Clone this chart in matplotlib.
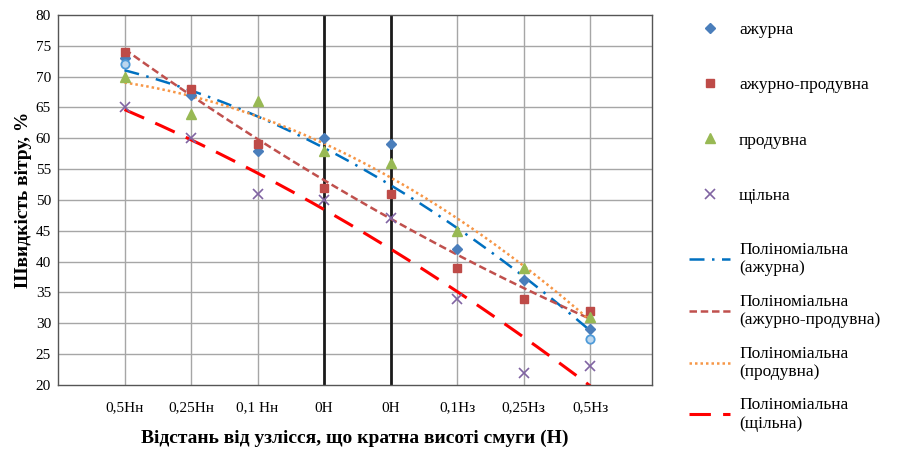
import matplotlib.pyplot as plt
import numpy as np

plt.rcParams['font.family'] = ['Liberation Serif', 'DejaVu Serif']

# категорії (відстань від узлісся)
categories = ['0,5Hн', '0,25Hн', '0,1 Hн', '0H', '0H', '0,1Hз', '0,25Hз', '0,5Hз']

azhurna = [73, 67, 58, 60, 59, 42, 37, 29]
azhurno_produvna = [74, 68, 59, 52, 51, 39, 34, 32]
produvna = [70, 64, 66, 58, 56, 45, 39, 31]
shchilna = [65, 60, 51, 50, 47, 34, 22, 23]

# окремі точки (кружечки) на краях
extra_x = [1, 8]
extra_y = [72, 27.5]

x = np.arange(1, len(categories) + 1)

fig = plt.figure(figsize=(9.03, 4.55), dpi=100)
ax = fig.add_axes([0.0642, 0.154, 0.658, 0.813])

# сітка
for xv in x:
    if xv in (4, 5):
        ax.axvline(xv, color='#1a1a1a', lw=2.0, zorder=1)
    else:
        ax.axvline(xv, color='#a6a6a6', lw=1.0, zorder=0)
for yv in range(25, 80, 5):
    ax.axhline(yv, color='#a6a6a6', lw=1.0, zorder=0)

pts = []
pts += ax.plot(x, azhurna, 'D', ms=5, color='#4a7ebb', ls='none', label='ажурна', zorder=3)
pts += ax.plot(x, azhurno_produvna, 's', ms=6, color='#be4b48', ls='none', label='ажурно-продувна', zorder=3)
pts += ax.plot(x, produvna, '^', ms=6.5, color='#98b954', ls='none', label='продувна', zorder=3)
pts += ax.plot(x, shchilna, 'x', ms=7, mew=1.2, color='#8064a2', ls='none', label='щільна', zorder=3)
ax.plot(extra_x, extra_y, 'o', ms=6, mfc='#bdd7ee', mec='#4f9bd9', mew=1.3, ls='none', zorder=4)

# поліноміальні лінії тренду (2-го ступеня)
xs = np.linspace(1, 8, 200)
trend = [
    (azhurna, '#0070c0', (0, (6, 3, 1, 3)), 1.8, 'Поліноміальна\n(ажурна)'),
    (azhurno_produvna, '#c0504d', (0, (3, 1.5)), 1.8, 'Поліноміальна\n(ажурно-продувна)'),
    (produvna, '#f79646', (0, (1, 1.2)), 1.8, 'Поліноміальна\n(продувна)'),
    (shchilna, '#ff0000', (0, (7, 4)), 2.2, 'Поліноміальна\n(щільна)'),
]
lines = []
for ys, col, ls, lw, lab in trend:
    c = np.polyfit(x, ys, 2)
    lines += ax.plot(xs, np.polyval(c, xs), color=col, ls=ls, lw=lw, label=lab, zorder=2)

ax.set_xlim(0, 8.93)
ax.set_ylim(20, 80)
ax.set_yticks(range(20, 81, 5))
ax.set_xticks(x)
ax.set_xticklabels(categories)
ax.tick_params(length=0, labelsize=11, pad=12)
ax.tick_params(axis='y', pad=5)
for s in ax.spines.values():
    s.set_linestyle((0, (4, 1, 1, 1)))
    s.set_color('#555555')
    s.set_linewidth(1.0)

ax.set_ylabel('Швидкість вітру, %', fontsize=14, fontweight='bold', labelpad=3)
ax.set_xlabel('Відстань від узлісся, що кратна висоті смуги (Н)', fontsize=14,
              fontweight='bold', labelpad=11)

leg1 = ax.legend(handles=pts, loc='upper left', bbox_to_anchor=(1.05, 1.0), frameon=False,
                 fontsize=12.5, labelspacing=2.25, handlelength=2.4, handletextpad=0.5,
                 borderaxespad=0)
ax.add_artist(leg1)
ax.legend(handles=lines, loc='upper left', bbox_to_anchor=(1.05, 0.405), frameon=False,
          fontsize=12.5, labelspacing=1.0, handlelength=2.4, handletextpad=0.5,
          borderaxespad=0)
fig.savefig('out.png', dpi=100)
